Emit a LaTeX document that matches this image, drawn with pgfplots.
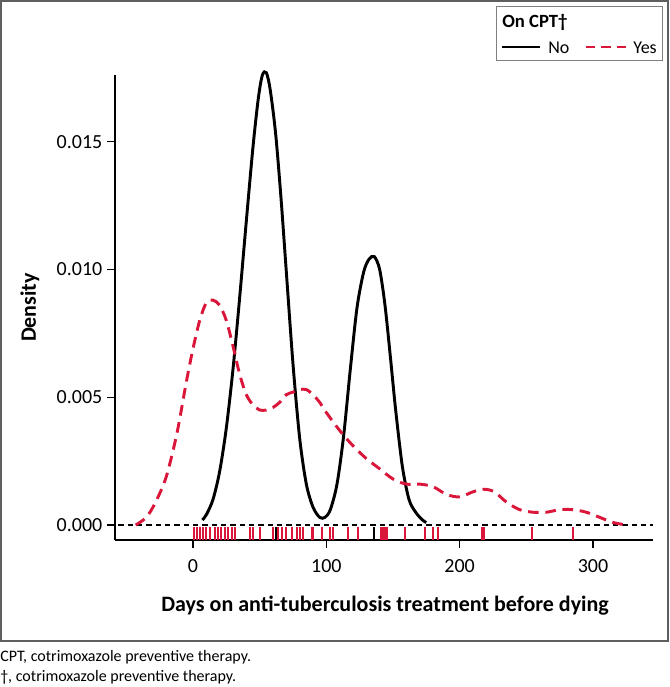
\documentclass[border=0pt]{standalone}
\usepackage{fontspec}
\setmainfont{Carlito}
\usepackage{pgfplots}
\pgfplotsset{compat=1.18}
\definecolor{cptred}{RGB}{218,22,58}
\definecolor{framegray}{RGB}{95,95,95}

\pgfplotstableread{
x y
7 0.0002
10 0.0004
15 0.0010
20 0.0021
25 0.0038
30 0.0061
35 0.0089
40 0.0119
45 0.0148
49 0.0167
52 0.0176
55 0.0177
58 0.0170
62 0.0153
66 0.0128
70 0.0099
75 0.0063
80 0.0034
85 0.0016
90 0.0007
95 0.0003
99 0.0003
103 0.0006
108 0.0016
113 0.0035
118 0.0061
123 0.0085
128 0.0099
132 0.0104
136 0.0105
140 0.0100
144 0.0086
148 0.0066
152 0.0045
157 0.0023
162 0.0010
167 0.0005
172 0.0002
175 0.0001
}\nocpt

\pgfplotstableread{
x y
-43 0.0000
-35 0.0003
-28 0.0009
-20 0.0019
-12 0.0036
-5 0.0056
0 0.0069
5 0.0080
10 0.0087
15 0.0088
20 0.0086
25 0.0080
30 0.0070
35 0.0059
40 0.0051
45 0.0047
50 0.0045
55 0.0045
60 0.0046
65 0.0048
70 0.0051
75 0.0052
80 0.0053
85 0.0053
90 0.0051
95 0.0048
100 0.0044
110 0.0037
120 0.0031
130 0.0026
140 0.0022
150 0.0018
160 0.0016
170 0.0016
180 0.0015
190 0.0012
200 0.0011
210 0.0013
218 0.0014
226 0.0013
235 0.0009
245 0.0006
255 0.0005
265 0.0005
275 0.0006
285 0.0006
295 0.0005
305 0.0003
315 0.0001
325 0.0000
}\yescpt

\pgfplotstableread{
x y
1 -0.00035
2.7 -0.00035
5 -0.00035
7.7 -0.00035
10 -0.00035
12.7 -0.00035
16.5 -0.00035
19 -0.00035
20.7 -0.00035
24 -0.00035
26.5 -0.00035
29 -0.00035
31.5 -0.00035
42.7 -0.00035
45 -0.00035
50 -0.00035
60 -0.00035
64 -0.00035
66.5 -0.00035
70 -0.00035
74 -0.00035
77.8 -0.00035
80 -0.00035
82.7 -0.00035
89 -0.00035
90 -0.00035
97 -0.00035
102.7 -0.00035
105 -0.00035
116.5 -0.00035
124 -0.00035
141 -0.00035
142.3 -0.00035
144 -0.00035
145.3 -0.00035
159 -0.00035
174 -0.00035
179.8 -0.00035
183.5 -0.00035
217 -0.00035
218.5 -0.00035
254 -0.00035
284.8 -0.00035
}\rugyes

\pgfplotstableread{
x y
62 -0.00035
135.5 -0.00035
}\rugno

\begin{document}
\begin{tikzpicture}
\begin{scope}[x=0.75pt,y=-0.75pt]
\useasboundingbox (0,0) rectangle (670,687);
\draw[framegray, line width=0.9pt] (1,1) rectangle (668,641);
% legend
\draw[gray, line width=0.6pt] (496,6) rectangle (662,60);
\node[anchor=west, inner sep=0pt, font=\bfseries\fontsize{14}{16}\selectfont] at (502,22) {On CPT†};
\draw[black, line width=2.2pt] (502,47) -- (540,47);
\node[anchor=west, inner sep=0pt, font=\fontsize{13.5}{15}\selectfont] at (548,48) {No};
\draw[cptred, line width=2.2pt, dash pattern=on 7pt off 4.5pt] (586,47) -- (626,47);
\node[anchor=west, inner sep=0pt, font=\fontsize{13.5}{15}\selectfont] at (633,48) {Yes};
% footnotes
\node[anchor=west, inner sep=0pt, font=\fontsize{12}{14}\selectfont] at (0,657) {CPT, cotrimoxazole preventive therapy.};
\node[anchor=west, inner sep=0pt, font=\fontsize{12}{14}\selectfont] at (0,677) {†, cotrimoxazole preventive therapy.};
\end{scope}

\begin{axis}[
  at={(86.25pt,-405pt)}, anchor=south west,
  scale only axis, width=403.5pt, height=348.75pt,
  xmin=-58.5, xmax=345, ymin=-0.000587, ymax=0.01761,
  axis lines*=left, axis line style={line width=0.9pt, -},
  tick align=outside, major tick length=6pt,
  tick style={line width=0.9pt, black},
  xtick={0,100,200,300}, ytick={0,0.005,0.010,0.015},
  scaled y ticks=false,
  yticklabel style={/pgf/number format/.cd, fixed, fixed zerofill, precision=3},
  /pgf/number format/assume math mode=true,
  ticklabel style={font=\fontsize{15}{17}\selectfont},
  xticklabel style={yshift=-5pt},
  xlabel={Days on anti-tuberculosis treatment before dying},
  ylabel={Density},
  every axis x label/.style={at={(axis description cs:0.502,-0.142)}, anchor=center, font=\bfseries\fontsize{16.5}{19}\selectfont},
  every axis y label/.style={at={(axis description cs:-0.158,0.5)}, rotate=90, anchor=center, font=\bfseries\fontsize{16.5}{19}\selectfont},
  clip=false,
]
\addplot[black, dashed, line width=0.8pt, dash pattern=on 4pt off 3pt] coordinates {(-56,0) (345,0)};
\addplot[only marks, mark=|, mark size=4.9pt, cptred, mark options={line width=1.4pt}] table {\rugyes};
\addplot[only marks, mark=|, mark size=4.9pt, black, mark options={line width=1.4pt}] table {\rugno};
\addplot[black, line width=2.2pt, smooth] table {\nocpt};
\addplot[cptred, line width=2.2pt, smooth, dash pattern=on 8pt off 5pt] table {\yescpt};
\end{axis}
\end{tikzpicture}
\end{document}
